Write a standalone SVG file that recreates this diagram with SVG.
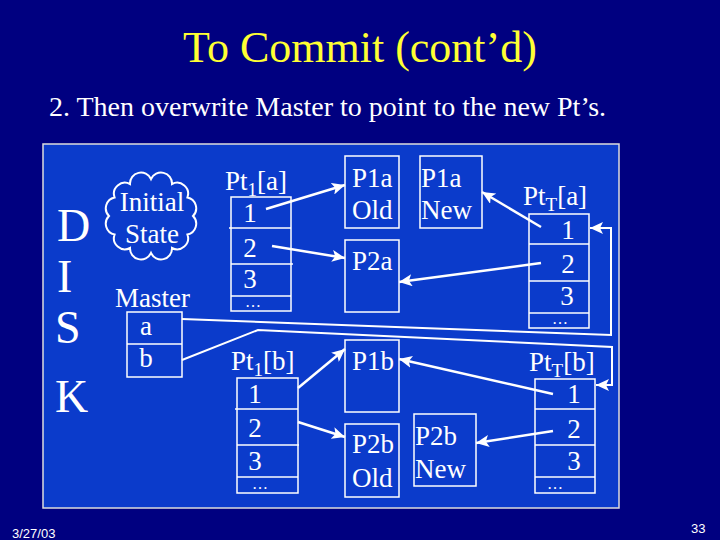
<svg xmlns="http://www.w3.org/2000/svg" width="720" height="540" viewBox="0 0 720 540">
<style>
text{font-family:"Liberation Serif","Times New Roman",serif;fill:#ffffff}
.t{font-size:27px}
.big{font-size:46px}
.box{fill:none;stroke:#ffffff;stroke-width:1.5}
.ln{fill:none;stroke:#ffffff;stroke-width:2.5}
.ml{fill:none;stroke:#ffffff;stroke-width:2}
.foot{font-family:"Liberation Sans",Arial,sans-serif;font-size:13px}
</style>
<defs>
<marker id="ah" markerUnits="userSpaceOnUse" markerWidth="14" markerHeight="12" refX="13" refY="6" orient="auto">
<path d="M0,0 L13,6 L0,12 L3,6 z" fill="#ffffff"/>
</marker>
</defs>
<rect x="0" y="0" width="720" height="540" fill="#000080"/>
<text x="360" y="62" text-anchor="middle" style="font-size:44px;fill:#ffff33">To Commit (cont’d)</text>
<text x="49" y="116" style="font-size:28px">2. Then overwrite Master to point to the new Pt’s.</text>
<rect x="43" y="144" width="576" height="364" fill="#0b3bcb" stroke="#dddddd" stroke-width="1.5"/>

<g id="disk">
<text class="big" x="57" y="241">D</text>
<text class="big" x="57" y="292">I</text>
<text class="big" x="55" y="343">S</text>
<text class="big" x="55" y="412">K</text>
</g>

<g id="initial-state">
<path class="ml" d="M193,216 A11,11 0 0 1 187.4,234.5 A11,11 0 0 1 172,248 A11,11 0 0 1 151,253 A11,11 0 0 1 130,248 A11,11 0 0 1 114.6,234.5 A11,11 0 0 1 109,216 A11,11 0 0 1 114.6,197.5 A11,11 0 0 1 130,184 A11,11 0 0 1 151,179 A11,11 0 0 1 172,184 A11,11 0 0 1 187.4,197.5 A11,11 0 0 1 193,216 z"/>
<text class="t" x="152" y="211" text-anchor="middle">Initial</text>
<text class="t" x="152" y="243" text-anchor="middle">State</text>
</g>

<g id="master">
<text class="t" x="115" y="307">Master</text>
<rect class="box" x="127" y="312" width="55" height="65"/>
<line class="box" x1="127" y1="344" x2="182" y2="344"/>
<text class="t" x="146" y="335" text-anchor="middle">a</text>
<text class="t" x="146" y="367" text-anchor="middle">b</text>
</g>

<g id="pt1a">
<text class="t" x="225" y="190">Pt<tspan style="font-size:19px" dy="6">1</tspan><tspan dy="-6">[a]</tspan></text>
<rect class="box" x="231" y="197" width="60" height="114"/>
<line class="box" x1="229" y1="228" x2="291" y2="228"/>
<line class="box" x1="231" y1="264" x2="293" y2="264"/>
<line class="box" x1="231" y1="296" x2="291" y2="296"/>
<text class="t" x="250" y="222" text-anchor="middle">1</text>
<text class="t" x="250" y="257" text-anchor="middle">2</text>
<text class="t" x="250" y="288" text-anchor="middle">3</text>
<text x="253" y="307" text-anchor="middle" style="font-size:16px">…</text>
</g>

<g id="p1a-old">
<rect class="box" x="345" y="156" width="54" height="72"/>
<text class="t" x="352" y="187">P1a</text>
<text class="t" x="352" y="219">Old</text>
</g>
<g id="p1a-new">
<rect class="box" x="420" y="156" width="62" height="72"/>
<text class="t" x="421" y="187">P1a</text>
<text class="t" x="421" y="219">New</text>
</g>
<g id="p2a">
<rect class="box" x="345" y="240" width="54" height="72"/>
<text class="t" x="352" y="270">P2a</text>
</g>

<g id="ptta">
<text class="t" x="523" y="205">Pt<tspan style="font-size:19px" dy="6">T</tspan><tspan dy="-6">[a]</tspan></text>
<rect class="box" x="529" y="214" width="60" height="114"/>
<line class="box" x1="529" y1="244" x2="589" y2="244"/>
<line class="box" x1="529" y1="281" x2="589" y2="281"/>
<line class="box" x1="529" y1="313" x2="589" y2="313"/>
<text class="t" x="568" y="239" text-anchor="middle">1</text>
<text class="t" x="568" y="273" text-anchor="middle">2</text>
<text class="t" x="567" y="305" text-anchor="middle">3</text>
<text x="560" y="324" text-anchor="middle" style="font-size:16px">…</text>
</g>

<g id="pt1b">
<text class="t" x="231" y="370">Pt<tspan style="font-size:19px" dy="6">1</tspan><tspan dy="-6">[b]</tspan></text>
<rect class="box" x="237" y="378" width="61" height="115"/>
<line class="box" x1="235" y1="409" x2="298" y2="409"/>
<line class="box" x1="237" y1="445" x2="299" y2="445"/>
<line class="box" x1="237" y1="477" x2="298" y2="477"/>
<text class="t" x="255" y="403" text-anchor="middle">1</text>
<text class="t" x="255" y="437" text-anchor="middle">2</text>
<text class="t" x="255" y="470" text-anchor="middle">3</text>
<text x="260" y="489" text-anchor="middle" style="font-size:16px">…</text>
</g>

<g id="p1b">
<rect class="box" x="345" y="340" width="54" height="72"/>
<text class="t" x="352" y="370">P1b</text>
</g>
<g id="p2b-old">
<rect class="box" x="345" y="424" width="54" height="73"/>
<text class="t" x="352" y="453">P2b</text>
<text class="t" x="352" y="487">Old</text>
</g>
<g id="p2b-new">
<rect class="box" x="414" y="414" width="62" height="72"/>
<text class="t" x="415" y="445">P2b</text>
<text class="t" x="415" y="478">New</text>
</g>

<g id="pttb">
<text class="t" x="529" y="371">Pt<tspan style="font-size:19px" dy="6">T</tspan><tspan dy="-6">[b]</tspan></text>
<rect class="box" x="535" y="379" width="60" height="114"/>
<line class="box" x1="535" y1="409" x2="595" y2="409"/>
<line class="box" x1="535" y1="445" x2="595" y2="445"/>
<line class="box" x1="535" y1="477" x2="595" y2="477"/>
<text class="t" x="574" y="403" text-anchor="middle">1</text>
<text class="t" x="574" y="438" text-anchor="middle">2</text>
<text class="t" x="574" y="470" text-anchor="middle">3</text>
<text x="555" y="489" text-anchor="middle" style="font-size:16px">…</text>
</g>

<g id="connectors">
<line class="ln" x1="266" y1="209" x2="345" y2="185" marker-end="url(#ah)"/>
<line class="ln" x1="272" y1="246" x2="345" y2="258" marker-end="url(#ah)"/>
<line class="ln" x1="541" y1="227" x2="482" y2="192" marker-end="url(#ah)"/>
<line class="ln" x1="541" y1="263" x2="399" y2="282" marker-end="url(#ah)"/>
<line class="ln" x1="298" y1="388" x2="345" y2="349" marker-end="url(#ah)"/>
<line class="ln" x1="298" y1="422" x2="345" y2="437" marker-end="url(#ah)"/>
<line class="ln" x1="553" y1="394" x2="399" y2="359" marker-end="url(#ah)"/>
<line class="ln" x1="553" y1="431" x2="476" y2="443" marker-end="url(#ah)"/>
<path class="ml" d="M182,319 L611,335 L611,228 L590,228" marker-end="url(#ah)"/>
<path class="ml" d="M182,360 L258,330 L612,347 L612,385 L596,385" marker-end="url(#ah)"/>
</g>

<text class="foot" x="12" y="538">3/27/03</text>
<text class="foot" x="691" y="533">33</text>
</svg>
